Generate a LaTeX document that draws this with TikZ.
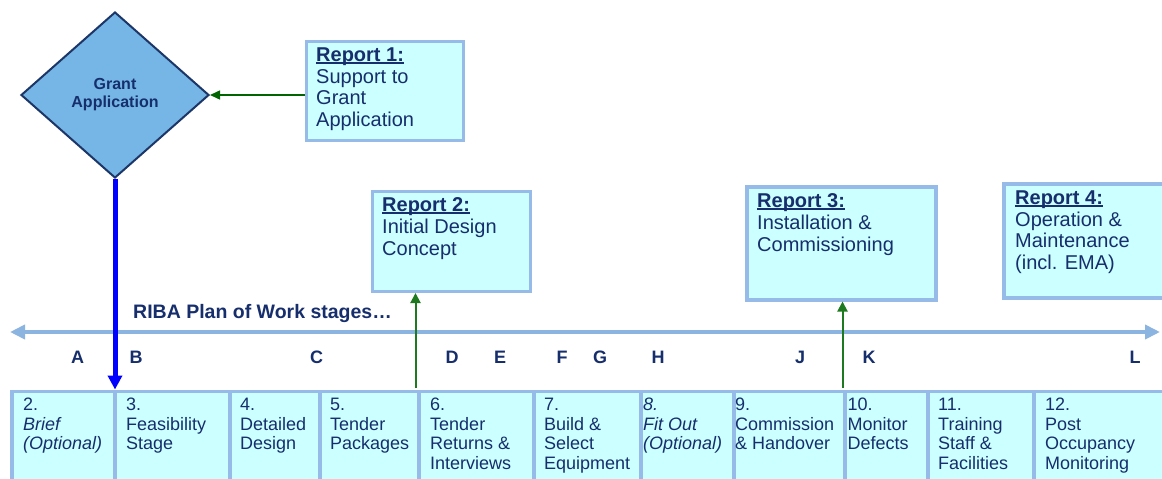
\documentclass[tikz,border=0pt]{standalone}
\usepackage{fontspec}
\setmainfont{Liberation Sans}
\usetikzlibrary{shapes.geometric,arrows.meta}
\definecolor{navy}{RGB}{22,46,108}
\definecolor{dfill}{RGB}{117,182,230}
\definecolor{dline}{RGB}{28,54,104}
\definecolor{cyanfill}{RGB}{204,255,255}
\definecolor{boxline}{RGB}{150,187,232}
\definecolor{axiscol}{RGB}{140,180,225}
\definecolor{darkgreen}{RGB}{0,100,0}
\definecolor{midgreen}{RGB}{30,122,30}
\newcommand\repul[1]{\setbox0\hbox{#1}\rlap{\rule[-2.2pt]{\wd0}{1.6pt}}\box0}
\begin{document}
\begin{tikzpicture}[x=1pt,y=-1pt,
  repbox/.style={draw=boxline,fill=cyanfill,line width=3pt,inner sep=0pt,anchor=north west},
  stagebox/.style={draw=boxline,fill=cyanfill,line width=3.5pt,inner sep=0pt,anchor=north west,minimum height=120pt},
  reptext/.style={anchor=north west,inner sep=0pt,align=left,text=navy,font=\fontsize{20}{21.6}\selectfont},
  stagetext/.style={anchor=north west,inner sep=0pt,align=left,text=navy,font=\fontsize{18}{19.5}\selectfont},
  letter/.style={anchor=base,inner sep=0pt,text=navy,font=\fontsize{18}{20}\selectfont\bfseries},
  greenarrow/.style={line width=2pt,midgreen,-{Triangle[length=10pt,width=10pt]}}
]
\useasboundingbox (0,0) rectangle (1162,479);
\fill[white] (0,0) rectangle (1162,479);

% Grant application diamond
\node[diamond,draw=dline,fill=dfill,line width=2pt,minimum width=188pt,minimum height=166pt,inner sep=0pt,
      text=navy,align=center,font=\fontsize{16}{18}\selectfont\bfseries] (gA) at (115,95) {Grant\\Application};

% Report boxes
\node[repbox,minimum width=157pt,minimum height=99pt] (r1) at (304.5,39.5) {};
\node[reptext] (t1) at (316,47.7) {\repul{\textbf{Report 1:}}\\Support to\\Grant\\Application};

\node[repbox,minimum width=158pt,minimum height=100pt] (r2) at (370.5,190) {};
\node[reptext] (t2) at (382,197.7) {\repul{\textbf{Report 2:}}\\Initial Design\\Concept};

\node[repbox,line width=4pt,minimum width=189pt,minimum height=113pt] (r3) at (745,184.5) {};
\node[reptext] (t3) at (757,193.7) {\repul{\textbf{Report 3:}}\\Installation \&\\Commissioning};

\node[repbox,line width=4pt,minimum width=200pt,minimum height=114pt] (r4) at (1002,182) {};
\node[reptext] (t4) at (1015,190.7) {\repul{\textbf{Report 4:}}\\Operation \&\\Maintenance\\(incl. EMA)};

% RIBA axis
\node[anchor=base west,inner sep=0pt,text=navy,font=\fontsize{19.5}{22}\selectfont\bfseries] (riba) at (133,318) {RIBA Plan of Work stages\dots};
\coordinate (axL) at (10,332);
\coordinate (axR) at (1160,332);
\draw[axiscol,line width=4pt,{Triangle[length=15pt,width=14pt]}-{Triangle[length=15pt,width=14pt]}] (axL) -- (axR);

% Letters
\node[letter] (lA) at (77.5,363) {A};
\node[letter] (lB) at (136,363) {B};
\node[letter] (lC) at (316.5,363) {C};
\node[letter] (lD) at (452,363) {D};
\node[letter] (lE) at (500,363) {E};
\node[letter] (lF) at (562,363) {F};
\node[letter] (lG) at (600,363) {G};
\node[letter] (lH) at (658,363) {H};
\node[letter] (lJ) at (800,363) {J};
\node[letter] (lK) at (869,363) {K};
\node[letter] (lL) at (1135,363) {L};

% Stage boxes
\node[stagebox,minimum width=103pt] (s2) at (10,389.5) {};
\node[stagebox,minimum width=115pt] (s3) at (113,389.5) {};
\node[stagebox,minimum width=90pt] (s4) at (228,389.5) {};
\node[stagebox,minimum width=99pt] (s5) at (318,389.5) {};
\node[stagebox,minimum width=115pt] (s6) at (417,389.5) {};
\node[stagebox,minimum width=107pt] (s7) at (532,389.5) {};
\node[stagebox,minimum width=93pt] (s8) at (639,389.5) {};
\node[stagebox,minimum width=111pt] (s9) at (732,389.5) {};
\node[stagebox,minimum width=83pt] (s10) at (843,389.5) {};
\node[stagebox,minimum width=106pt] (s11) at (926,389.5) {};
\node[stagebox,minimum width=150pt] (s12) at (1032,389.5) {};

\node[stagetext] (st2) at (23,398.1) {2.\\\textit{Brief}\\\textit{(Optional)}};
\node[stagetext] (st3) at (126,398.1) {3.\\Feasibility\\Stage};
\node[stagetext] (st4) at (240,398.1) {4.\\Detailed\\Design};
\node[stagetext] (st5) at (330,398.1) {5.\\Tender\\Packages};
\node[stagetext] (st6) at (430,398.1) {6.\\Tender\\Returns \&\\Interviews};
\node[stagetext] (st7) at (544,398.1) {7.\\Build \&\\Select\\Equipment};
\node[stagetext] (st8) at (643,398.1) {\textit{8.}\\\textit{Fit Out}\\\textit{(Optional)}};
\node[stagetext] (st9) at (735,398.1) {9.\\Commission\\\& Handover};
\node[stagetext] (st10) at (847.5,398.1) {10.\\Monitor\\Defects};
\node[stagetext] (st11) at (938,398.1) {11.\\Training\\Staff \&\\Facilities};
\node[stagetext] (st12) at (1045,398.1) {12.\\Post\\Occupancy\\Monitoring};

% Connectors
\draw[line width=1.5pt,darkgreen,-{Triangle[length=10pt,width=9pt]}] (r1.west |- gA.east) -- (gA.east);
\draw[blue,line width=5pt,-{Triangle[length=14pt,width=14pt]}] (gA.south) -- (gA.south |- s3.north west);
\coordinate (g2) at (415.5,388);
\coordinate (g3) at (842.5,388);
\draw[greenarrow] (g2) -- (g2 |- r2.south);
\draw[greenarrow] (g3) -- (g3 |- r3.south);
\end{tikzpicture}
\end{document}
